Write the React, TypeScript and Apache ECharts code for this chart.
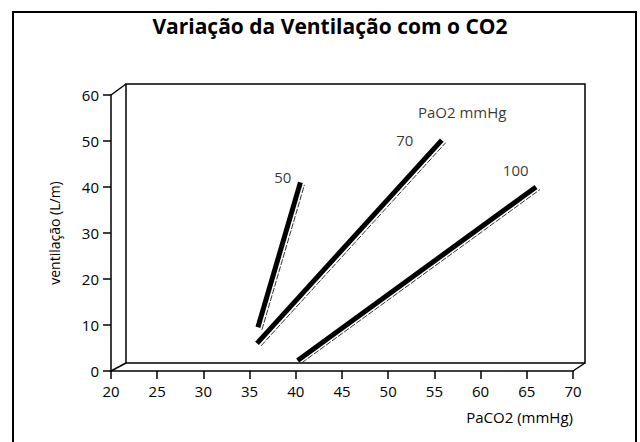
import React, { useEffect, useRef } from "react";
import * as echarts from "echarts";

// ---- data ----
const xTicksMin = 20;
const xTicksMax = 70;
const xTickStep = 5;
const yTicksMin = 0;
const yTicksMax = 60;
const yTickStep = 10;

const pao2Names = ["50", "70", "100"];
const line50: number[][] = [
  [35.9, 9.5],
  [40.5, 41],
];
const line70: number[][] = [
  [35.8, 6],
  [55.8, 50.2],
];
const line100: number[][] = [
  [40.2, 2.3],
  [66, 40],
];
const pao2LabelAnchors: number[][] = [
  [38.6, 42.2],
  [51.8, 50.3],
  [63.8, 43.7],
];
const legendTitle = "PaO2 mmHg";
const legendTitleAnchor = [58, 56.3];

const titleText = "Variação da Ventilação com o CO2";
const xName = "PaCO2 (mmHg)";
const yName = "ventilação (L/m)";

const FONT = "Open Sans";

export default function App() {
  const ref = useRef<HTMLDivElement>(null);

  useEffect(() => {
    if (!ref.current) return;
    const chart = echarts.init(ref.current, undefined, { renderer: "svg" });

    // layout of the pseudo-3D box
    const front = { left: 111, top: 95, width: 462, height: 276 };
    const back = { left: 126, top: 84, width: 459, height: 279 };
    const shadow = { left: front.left + 4, top: front.top + 2.5, width: front.width, height: front.height };

    const lines = [line50, line70, line100];

    const hiddenX = (gridIndex: number) => ({
      type: "value",
      gridIndex,
      min: xTicksMin,
      max: xTicksMax,
      interval: xTickStep,
      show: false,
    });
    const hiddenY = (gridIndex: number) => ({
      type: "value",
      gridIndex,
      min: yTicksMin,
      max: yTicksMax,
      interval: yTickStep,
      show: false,
    });

    const series: any[] = [];
    lines.forEach((d, i) => {
      series.push({
        type: "line",
        name: pao2Names[i] + "-edge",
        xAxisIndex: 1,
        yAxisIndex: 1,
        data: d,
        showSymbol: false,
        symbol: "none",
        lineStyle: { color: "#333", width: 1, type: [6, 1.5] },
        z: 2,
      });
      series.push({
        type: "line",
        name: pao2Names[i],
        xAxisIndex: 0,
        yAxisIndex: 0,
        data: d,
        showSymbol: false,
        symbol: "none",
        lineStyle: { color: "#000", width: 5, cap: "butt" },
        z: 3,
      });
    });

    series.push({
      type: "scatter",
      xAxisIndex: 0,
      yAxisIndex: 0,
      symbolSize: 0.1,
      itemStyle: { color: "rgba(0,0,0,0)" },
      data: pao2LabelAnchors.map((p, i) => ({ value: p, name: pao2Names[i] })),
      label: {
        show: true,
        position: "inside",
        formatter: (p: any) => p.name,
        color: "#000",
        fontFamily: FONT,
        fontSize: 15,
      },
      z: 4,
    });
    series.push({
      type: "scatter",
      xAxisIndex: 0,
      yAxisIndex: 0,
      symbolSize: 0.1,
      itemStyle: { color: "rgba(0,0,0,0)" },
      data: [{ value: legendTitleAnchor, name: legendTitle }],
      label: {
        show: true,
        position: "inside",
        formatter: (p: any) => p.name,
        color: "#000",
        fontFamily: FONT,
        fontSize: 15,
      },
      z: 4,
    });

    const fl = front.left;
    const ft = front.top;
    const fr = front.left + front.width;
    const fb = front.top + front.height;
    const bl = back.left;
    const bt = back.top;
    const br = back.left + back.width;
    const bb = back.top + back.height;
    const edge = { stroke: "#000", lineWidth: 1.5 };

    chart.setOption({
      animation: false,
      backgroundColor: "#fff",
      textStyle: { fontFamily: FONT },
      title: {
        text: titleText,
        left: 325,
        top: 10,
        textAlign: "center",
        textStyle: { fontFamily: FONT, fontWeight: "bold", fontSize: 21, color: "#000" },
      },
      grid: [
        { ...front, show: false },
        { ...shadow, show: false },
        { ...back, show: true, borderColor: "#000", borderWidth: 1.5, backgroundColor: "transparent" },
      ],
      xAxis: [
        {
          type: "value",
          gridIndex: 0,
          min: xTicksMin,
          max: xTicksMax,
          interval: xTickStep,
          name: xName,
          nameLocation: "end",
          nameGap: 0,
          nameTextStyle: {
            fontFamily: FONT,
            fontSize: 15,
            color: "#000",
            align: "right",
            verticalAlign: "top",
            padding: [38, 0, 0, 0],
          },
          axisLine: { show: true, lineStyle: { color: "#000", width: 1.5 } },
          axisTick: { show: true, length: 8, lineStyle: { color: "#000", width: 1.5 } },
          axisLabel: { color: "#000", fontFamily: FONT, fontSize: 15, margin: 12 },
          splitLine: { show: false },
        },
        hiddenX(1),
        hiddenX(2),
      ],
      yAxis: [
        {
          type: "value",
          gridIndex: 0,
          min: yTicksMin,
          max: yTicksMax,
          interval: yTickStep,
          name: yName,
          nameLocation: "middle",
          nameGap: 50,
          nameRotate: 90,
          nameTextStyle: { fontFamily: FONT, fontSize: 14, color: "#000" },
          axisLine: { show: true, lineStyle: { color: "#000", width: 1.5 } },
          axisTick: { show: true, length: 8, lineStyle: { color: "#000", width: 1.5 } },
          axisLabel: { color: "#000", fontFamily: FONT, fontSize: 15, margin: 12 },
          splitLine: { show: false },
        },
        hiddenY(1),
        hiddenY(2),
      ],
      series,
      graphic: [
        {
          type: "rect",
          shape: { x: 13, y: 12, width: 623, height: 470 },
          style: { fill: "none", stroke: "#000", lineWidth: 2 },
          silent: true,
        },
        { type: "line", shape: { x1: fl, y1: ft, x2: bl, y2: bt }, style: edge, silent: true },
        { type: "line", shape: { x1: fl, y1: fb, x2: bl, y2: bb }, style: edge, silent: true },
        { type: "line", shape: { x1: fr, y1: fb, x2: br, y2: bb }, style: edge, silent: true },
      ],
    });

    return () => chart.dispose();
  }, []);

  return (
    <div
      ref={ref}
      style={{ position: "fixed", left: 0, top: 0, width: 640, height: 442 }}
    />
  );
}
